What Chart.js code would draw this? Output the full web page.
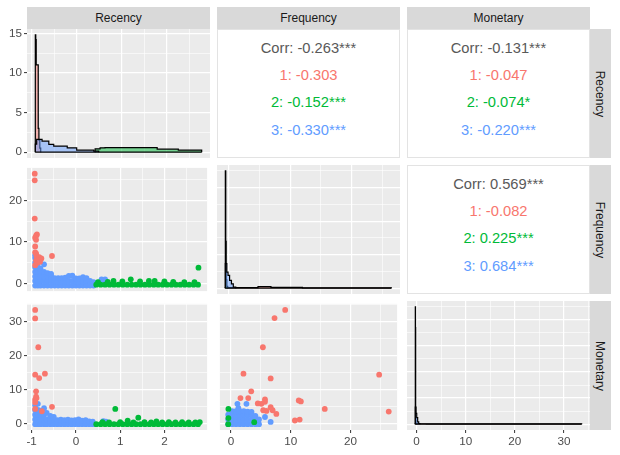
<!DOCTYPE html>
<html>
<head>
<meta charset="utf-8">
<script src="https://cdn.jsdelivr.net/npm/chart.js@4.4.1/dist/chart.umd.min.js"></script>
<style>
  body { margin: 0; background: #fff; font-family: "Liberation Sans", Arial, sans-serif; }
  #wrap { position: relative; width: 620px; height: 455px; overflow: hidden; }
  #wrap canvas { position: absolute; }
  .strip { position: absolute; background: #d9d9d9; color: #1a1a1a; font-size: 12px;
           display: flex; align-items: center; justify-content: center; }
  .strip.right span { transform: rotate(90deg); white-space: nowrap; }
  .corr { position: absolute; background: #fff; border: 1px solid #e3e3e3; box-sizing: border-box; }
  .corr div { position: absolute; left: 0; right: 0; text-align: center; font-size: 14.7px;
              line-height: 18px; white-space: nowrap; }
</style>
</head>
<body>
<div id="wrap"></div>
<script>
// variables and clusters
const vars = ["Recency", "Frequency", "Monetary"];
const clusterColors = ["#F8766D", "#00BA38", "#619CFF"];
const clusterFills = ["rgba(248,118,109,0.5)", "rgba(0,186,56,0.5)", "rgba(97,156,255,0.5)"];

// axis ranges and breaks
const recencyRange = [-1.105, 2.965];
const frequencyRange = [-1.84, 27.8];
const monetaryRange = [-1.93, 35.29];
const recencyBreaks = [-1, 0, 1, 2];
const recencyMinor = [-0.5, 0.5, 1.5, 2.5];
const frequencyBreaks = [0, 10, 20];
const frequencyMinor = [5, 15, 25];
const monetaryBreaks = [0, 10, 20, 30];
const monetaryMinor = [5, 15, 25, 35];

// density (diagonal) y ranges and breaks
const recDensRange = [-0.74, 15.54];
const recDensBreaks = [0, 5, 10, 15];
const recDensMinor = [2.5, 7.5, 12.5];
const freqDensRange = [-0.35, 7.35];
const freqDensBreaks = [0, 2, 4, 6];
const freqDensMinor = [1, 3, 5, 7];
const monDensRange = [-0.45, 9.45];
const monDensBreaks = [0, 2, 4, 6, 8];
const monDensMinor = [1, 3, 5, 7, 9];

// diagonal step outlines per cluster (bin start x, height)
const recRedX = [-0.92, -0.91, -0.90, -0.855, -0.84, -0.82, -0.80];
const recRedY = [14.8, 14.2, 11.0, 3.0, 1.5, 0.5, 0];
const recGreenX = [0.41, 0.52, 0.63, 1.79, 2.26, 2.78];
const recGreenY = [0.42, 0.55, 0.58, 0.38, 0.25, 0];
const recBlueX = [-0.92, -0.89, -0.77, -0.62, -0.51, -0.21, 0.0, 0.38, 0.49];
const recBlueY = [1.0, 1.6, 1.38, 0.97, 0.76, 0.55, 0.25, 0.13, 0];

const freqRedX = [-0.49, 1.0, 4.8, 6.9, 12, 26.4];
const freqRedY = [0.03, 0.03, 0.09, 0.04, 0.02, 0];
const freqGreenX = [-0.49, -0.42, -0.35, -0.25, -0.1];
const freqGreenY = [7.0, 2.8, 0.5, 0.1, 0];
const freqBlueX = [-0.49, -0.25, -0.05, 0.2, 0.5, 0.8, 1.2];
const freqBlueY = [1.46, 0.96, 0.76, 0.46, 0.26, 0.06, 0];

const monRedX = [-0.24, 0.5, 2, 33.6];
const monRedY = [0.04, 0.03, 0.02, 0];
const monGreenX = [-0.24, -0.2, -0.16, -0.1, 0.0];
const monGreenY = [9.0, 7.4, 0.3, 0.05, 0];
const monBlueX = [-0.24, -0.1, 0.05, 0.24, 0.45, 0.7];
const monBlueY = [1.3, 0.82, 0.5, 0.18, 0.05, 0];

// scatter points: Recency vs Frequency
const rfRed = [[-0.93,26.4],[-0.93,24.8],[-0.93,15.6],[-0.9,11.5],[-0.88,11.8],[-0.92,11.0],[-0.9,10.5],
  [-0.92,8.9],[-0.92,7.5],[-0.9,7.2],[-0.89,6.6],[-0.83,6.3],[-0.78,6.0],[-0.54,6.6],[-0.92,4.4],
  [-0.9,5.5],[-0.87,5.0],[-0.85,5.6],[-0.81,5.2]];
const rfGreen = [[0.46,-0.3],[0.56,-0.3],[0.66,-0.3],[0.76,-0.3],[0.86,-0.3],[0.96,-0.3],[1.06,-0.3],
  [1.16,-0.3],[1.26,-0.3],[1.36,-0.3],[1.46,-0.3],[1.56,-0.3],[1.66,-0.3],[1.76,-0.3],[1.86,-0.3],
  [1.96,-0.3],[2.06,-0.3],[2.16,-0.3],[2.26,-0.3],[2.36,-0.3],[2.46,-0.3],[2.56,-0.3],[2.66,-0.3],
  [2.76,-0.3],[0.5,0.3],[0.72,0.4],[0.85,0.6],[1.05,0.5],[1.24,1.0],[1.45,0.5],[1.65,0.6],[1.78,0.6],
  [2.0,0.5],[2.2,0.4],[2.45,0.3],[2.68,0.3],[2.77,3.8]];
const rfBlue = [[-0.92,-0.5],[-0.92,0.6],[-0.92,1.7],[-0.92,2.8],[-0.92,3.9],[-0.92,5.0],[-0.92,6.1],[-0.92,6.8],
  [-0.86,-0.5],[-0.86,0.6],[-0.86,1.7],[-0.86,2.8],[-0.86,3.9],[-0.86,5.0],[-0.86,6.2],
  [-0.80,-0.5],[-0.80,0.6],[-0.80,1.7],[-0.80,2.8],[-0.80,3.6],
  [-0.72,-0.5],[-0.72,0.6],[-0.72,1.7],[-0.72,2.8],[-0.72,4.6],
  [-0.64,-0.5],[-0.64,0.6],[-0.64,1.7],[-0.64,2.5],
  [-0.56,-0.5],[-0.56,0.6],[-0.56,1.7],[-0.56,2.3],
  [-0.48,-0.5],[-0.48,0.5],[-0.48,1.3],[-0.40,-0.5],[-0.40,0.5],[-0.40,1.3],
  [-0.32,-0.5],[-0.32,0.5],[-0.32,1.3],[-0.24,-0.5],[-0.24,0.5],[-0.24,1.4],
  [-0.16,-0.5],[-0.16,0.6],[-0.16,1.8],[-0.08,-0.5],[-0.08,0.6],[-0.08,1.9],
  [0.00,-0.5],[0.00,0.5],[0.00,1.2],[0.08,-0.5],[0.08,0.5],[0.08,1.2],
  [0.16,-0.5],[0.16,0.5],[0.16,1.5],[0.24,-0.5],[0.24,0.5],[0.24,1.3],
  [0.32,-0.5],[0.32,0.6],[0.40,-0.5],[0.40,0.3],[0.58,1.0],[0.66,1.0],[0.62,0.4]];

// scatter points: Recency vs Monetary
const rmRed = [[-0.92,33.5],[-0.92,31.0],[-0.85,22.5],[-0.92,14.4],[-0.70,14.7],[-0.83,13.4],[-0.90,9.5],
  [-0.89,7.5],[-0.92,7.0],[-0.92,6.2],[-0.9,7.9],[-0.54,4.9],[-0.77,3.6],[-0.92,4.3]];
const rmGreen = [[0.46,-0.2],[0.56,-0.2],[0.66,-0.2],[0.76,-0.2],[0.86,-0.2],[0.96,-0.2],[1.06,-0.2],
  [1.16,-0.2],[1.26,-0.2],[1.36,-0.2],[1.46,-0.2],[1.56,-0.2],[1.66,-0.2],[1.76,-0.2],[1.86,-0.2],
  [1.96,-0.2],[2.06,-0.2],[2.16,-0.2],[2.26,-0.2],[2.36,-0.2],[2.46,-0.2],[2.56,-0.2],[2.66,-0.2],
  [2.76,-0.2],[0.6,0.4],[0.75,0.3],[0.89,4.3],[1.0,0.4],[1.17,0.86],[1.3,0.3],[1.41,1.7],[1.55,0.4],
  [1.7,0.3],[1.82,0.6],[1.95,0.3],[2.1,0.4],[2.25,0.3],[2.4,0.4],[2.55,0.3],[2.7,0.3],[2.8,0.4]];
const rmBlue = [[-0.92,-0.2],[-0.92,1.2],[-0.92,2.6],[-0.92,4.0],[-0.92,5.4],
  [-0.86,-0.2],[-0.86,1.2],[-0.86,2.6],[-0.86,4.0],[-0.86,5.8],
  [-0.80,-0.2],[-0.80,1.2],[-0.80,2.6],[-0.80,3.8],
  [-0.72,-0.2],[-0.72,1.2],[-0.72,2.6],[-0.72,4.5],
  [-0.66,-0.2],[-0.66,1.2],[-0.66,3.1],[-0.58,-0.2],[-0.58,1.2],[-0.58,2.2],
  [-0.50,-0.2],[-0.50,1.2],[-0.50,1.9],[-0.42,-0.2],[-0.42,1.0],[-0.34,-0.2],[-0.34,1.1],
  [-0.26,-0.2],[-0.26,1.0],[-0.18,-0.2],[-0.18,1.1],[-0.10,-0.2],[-0.10,0.9],
  [-0.02,-0.2],[-0.02,1.0],[0.06,-0.2],[0.06,1.2],[0.14,-0.2],[0.14,0.8],
  [0.22,-0.2],[0.22,1.0],[0.30,-0.2],[0.30,0.6],[0.38,-0.2],[0.38,0.5],[0.62,0.7],[0.68,0.5]];

// scatter points: Frequency vs Monetary
const fmRed = [[9.08,33.5],[7.3,31.1],[5.35,22.5],[2.1,14.7],[6.65,13.3],[24.8,14.4],[3.4,9.5],
  [1.6,7.5],[2.9,7.5],[5.7,7.1],[5.7,6.4],[4.5,5.9],[5.1,5.8],[6.65,4.8],[6.97,3.9],[5.4,3.9],
  [5.95,3.7],[7.6,2.8],[11.35,6.8],[11.7,6.5],[15.7,4.3],[26.4,3.5],[10.7,0.87],[11.5,1.15]];
const fmGreen = [[-0.42,4.3],[-0.42,1.6],[-0.45,-0.2],[3.9,0.37]];
const fmBlue = [[-0.45,-0.2],[-0.45,1.2],[-0.45,2.6],[0.2,-0.2],[0.2,1.2],[0.2,2.6],[0.2,3.6],
  [0.85,-0.2],[0.85,1.2],[0.85,2.6],[0.85,3.6],[1.5,-0.2],[1.5,1.2],[1.5,2.6],[1.5,3.6],
  [2.15,-0.2],[2.15,1.2],[2.15,2.6],[2.15,3.6],[2.8,-0.2],[2.8,1.2],[2.8,2.6],[2.8,3.5],
  [3.45,-0.2],[3.45,1.2],[3.45,2.6],[3.45,3.4],[4.1,-0.2],[4.1,1.2],[4.1,2.2],[4.7,-0.2],[4.7,1.2],
  [1.09,5.8],[2.6,5.8],[1.25,4.5],[5.7,1.9],[6.65,0.46]];

// correlation text
const corrRF = ["Corr: -0.263***", "1: -0.303", "2: -0.152***", "3: -0.330***"];
const corrRM = ["Corr: -0.131***", "1: -0.047", "2: -0.074*", "3: -0.220***"];
const corrFM = ["Corr: 0.569***", "1: -0.082", "2: 0.225***", "3: 0.684***"];
const corrColors = ["#595959", "#F8766D", "#00BA38", "#619CFF"];

// layout of the grid
const colLeft = [27, 217, 407];
const rowTop = [29, 165, 301];
const panelW = 183, panelH = 129;

const wrap = document.getElementById("wrap");
const tickFont = { family: "'Liberation Sans', Arial, sans-serif", size: 11.7 };

const panelBg = {
  id: "panelBg",
  beforeDraw(chart) {
    const a = chart.chartArea;
    const ctx = chart.ctx;
    ctx.save();
    ctx.fillStyle = "#ebebeb";
    ctx.fillRect(a.left, a.top, a.right - a.left, a.bottom - a.top);
    ctx.restore();
  }
};

function axis(range, major, minor, show, pos) {
  return {
    type: "linear",
    position: pos,
    min: range[0],
    max: range[1],
    border: { display: false },
    grid: {
      color: "#ffffff",
      lineWidth: c => (c.tick && c.tick.minor) ? 0.6 : 1.2,
      drawTicks: show,
      tickLength: 3,
      tickWidth: 1,
      tickColor: c => (c.tick && c.tick.minor) ? "rgba(0,0,0,0)" : "#333333"
    },
    ticks: {
      display: show,
      autoSkip: false,
      maxRotation: 0,
      padding: 2,
      color: "#4d4d4d",
      font: tickFont,
      callback: (v, i, t) => (t[i] && t[i].minor) ? "" : String(v)
    },
    afterBuildTicks: s => {
      s.ticks = major.map(v => ({ value: v }))
        .concat(minor.map(v => ({ value: v, minor: true })))
        .sort((a, b) => a.value - b.value);
    },
    afterFit: s => {
      if (pos === "left") s.width = show ? 27 : 0;
      else s.height = show ? 26 : 0;
      s.paddingLeft = 0; s.paddingRight = 0; s.paddingTop = 0; s.paddingBottom = 0;
    }
  };
}

function makeCanvas(r, c) {
  const cv = document.createElement("canvas");
  const extraL = c === 0 ? 27 : 0;
  const extraB = r === 2 ? 26 : 0;
  cv.width = panelW + extraL;
  cv.height = panelH + extraB;
  cv.style.left = (colLeft[c] - extraL) + "px";
  cv.style.top = rowTop[r] + "px";
  wrap.appendChild(cv);
  return cv;
}

function toPts(pairs) {
  return pairs.map(p => ({ x: p[0], y: p[1] }));
}

function scatterPanel(r, c, xAx, yAx, red, green, blue) {
  const ds = [[red, 0], [green, 1], [blue, 2]].map(([pairs, k]) => ({
    data: toPts(pairs),
    backgroundColor: clusterColors[k],
    pointRadius: 2.9,
    pointBorderWidth: 0,
    pointHoverRadius: 2.9
  }));
  new Chart(makeCanvas(r, c), {
    type: "scatter",
    data: { datasets: ds },
    options: {
      responsive: false,
      animation: false,
      events: [],
      layout: { padding: 0 },
      plugins: { legend: { display: false }, tooltip: { enabled: false } },
      scales: { x: xAx, y: yAx }
    },
    plugins: [panelBg]
  });
}

function stepArea(xs, ys, k) {
  const pts = [{ x: xs[0], y: 0 }];
  xs.forEach((x, i) => pts.push({ x: x, y: ys[i] }));
  return {
    data: pts,
    stepped: true,
    fill: "origin",
    backgroundColor: clusterFills[k],
    borderColor: "#000000",
    borderWidth: 1.2,
    pointRadius: 0
  };
}

function diagPanel(r, c, xAx, yAx, series) {
  const allX = series.flatMap(s => s[0]);
  const base = {
    data: [{ x: Math.min(...allX), y: 0 }, { x: Math.max(...allX), y: 0 }],
    borderColor: "#000000", borderWidth: 1.2, pointRadius: 0, fill: false
  };
  // blue drawn on top, then green, then red (first dataset ends up on top)
  const ds = [base, stepArea(series[2][0], series[2][1], 2),
              stepArea(series[1][0], series[1][1], 1),
              stepArea(series[0][0], series[0][1], 0)];
  new Chart(makeCanvas(r, c), {
    type: "line",
    data: { datasets: ds },
    options: {
      responsive: false,
      animation: false,
      events: [],
      layout: { padding: 0 },
      plugins: { legend: { display: false }, tooltip: { enabled: false } },
      scales: { x: xAx, y: yAx }
    },
    plugins: [panelBg]
  });
}

function corrPanel(r, c, lines) {
  const d = document.createElement("div");
  d.className = "corr";
  d.style.left = colLeft[c] + "px";
  d.style.top = rowTop[r] + "px";
  d.style.width = panelW + "px";
  d.style.height = panelH + "px";
  const centers = [17.5, 45, 72, 99.5];
  lines.forEach((t, i) => {
    const l = document.createElement("div");
    l.textContent = t;
    l.style.top = (centers[i] - 9) + "px";
    l.style.color = corrColors[i];
    d.appendChild(l);
  });
  wrap.appendChild(d);
}

function strips() {
  vars.forEach((v, i) => {
    const t = document.createElement("div");
    t.className = "strip";
    t.style.left = colLeft[i] + "px";
    t.style.top = "7px";
    t.style.width = panelW + "px";
    t.style.height = "22px";
    t.textContent = v;
    wrap.appendChild(t);

    const s = document.createElement("div");
    s.className = "strip right";
    s.style.left = "590px";
    s.style.top = rowTop[i] + "px";
    s.style.width = "21px";
    s.style.height = panelH + "px";
    const sp = document.createElement("span");
    sp.textContent = v;
    s.appendChild(sp);
    wrap.appendChild(s);
  });
}

// row 1
diagPanel(0, 0,
  axis(recencyRange, recencyBreaks, recencyMinor, false, "bottom"),
  axis(recDensRange, recDensBreaks, recDensMinor, true, "left"),
  [[recRedX, recRedY], [recGreenX, recGreenY], [recBlueX, recBlueY]]);
corrPanel(0, 1, corrRF);
corrPanel(0, 2, corrRM);

// row 2
scatterPanel(1, 0,
  axis(recencyRange, recencyBreaks, recencyMinor, false, "bottom"),
  axis(frequencyRange, frequencyBreaks, frequencyMinor, true, "left"),
  rfRed, rfGreen, rfBlue);
diagPanel(1, 1,
  axis(frequencyRange, frequencyBreaks, frequencyMinor, false, "bottom"),
  axis(freqDensRange, freqDensBreaks, freqDensMinor, false, "left"),
  [[freqRedX, freqRedY], [freqGreenX, freqGreenY], [freqBlueX, freqBlueY]]);
corrPanel(1, 2, corrFM);

// row 3
scatterPanel(2, 0,
  axis(recencyRange, recencyBreaks, recencyMinor, true, "bottom"),
  axis(monetaryRange, monetaryBreaks, monetaryMinor, true, "left"),
  rmRed, rmGreen, rmBlue);
scatterPanel(2, 1,
  axis(frequencyRange, frequencyBreaks, frequencyMinor, true, "bottom"),
  axis(monetaryRange, monetaryBreaks, monetaryMinor, false, "left"),
  fmRed, fmGreen, fmBlue);
diagPanel(2, 2,
  axis(monetaryRange, monetaryBreaks, monetaryMinor, true, "bottom"),
  axis(monDensRange, monDensBreaks, monDensMinor, false, "left"),
  [[monRedX, monRedY], [monGreenX, monGreenY], [monBlueX, monBlueY]]);

strips();
</script>
</body>
</html>
